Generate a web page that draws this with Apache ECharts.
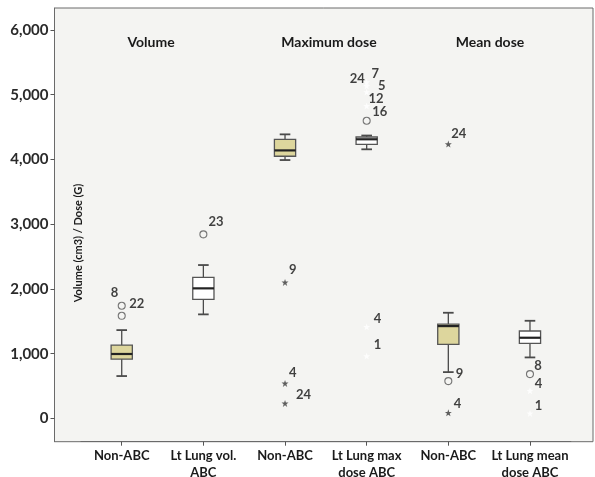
<!DOCTYPE html>
<html>
<head>
<meta charset="utf-8">
<script src="https://cdn.jsdelivr.net/npm/echarts@6/dist/echarts.min.js"></script>
<style>html,body{margin:0;padding:0;background:#fff;}#c{width:595px;height:477px;}</style>
</head>
<body>
<div id="c"></div>
<script>
// ---- data ----
const categories = ['Non-ABC', 'Lt Lung vol.\nABC', 'Non-ABC', 'Lt Lung max\ndose ABC', 'Non-ABC', 'Lt Lung mean\ndose ABC'];
const groupTitles = ['Volume', 'Maximum dose', 'Mean dose'];
const yTickValues = [0, 1000, 2000, 3000, 4000, 5000, 6000];
const boxMin    = [654, 1607, 3991, 4157, 715, 942];
const boxQ1     = [916, 1839, 4050, 4234, 1143, 1159];
const boxMedian = [995, 2009, 4140, 4312, 1426, 1246];
const boxQ3     = [1133, 2179, 4311, 4347, 1457, 1350];
const boxMax    = [1364, 2369, 4388, 4370, 1632, 1508];
// outliers: [category index, value, case label]
const mildOutliers = [[0, 1740, '22'], [0, 1585, '8'], [1, 2843, '23'], [3, 4598, '16'], [4, 576, '9'], [5, 684, '8']];
const extremeOutliers = [[2, 2101, '9'], [2, 541, '4'], [2, 232, '24'], [4, 4238, '24'], [4, 87, '4']];
const hiddenOutliers = [[3, 5135, '24'], [3, 5196, '7'], [3, 5042, '5'], [3, 4826, '12'], [3, 1415, '4'], [3, 963, '1'], [5, 427, '4'], [5, 77, '1']];

// ---- styles (kept apart from data) ----
const boxFills = ['#ddd69d', '#ffffff', '#ddd69d', '#ffffff', '#ddd69d', '#ffffff'];
const mildLabelOffsets = [[8, -1], [-10.5, -22.7], [5.7, -12], [6, -8], [8, -7], [4.8, -7.3]];
const extremeLabelOffsets = [[4, -12.3], [4, -10.6], [11, -8.3], [3, -10.7], [5.5, -8.7]];
const hiddenLabelOffsets = [[-17, -6.7], [4.8, -8.7], [11.3, -6.3], [1.8, -6.7], [7, -7.7], [7, -11], [4.8, -6.7], [4.8, -7.3]];
const groupTitleX = [151, 329, 490];
const FONT = 'Lato';
const SYM = 7;

const starPath = 'path://M0,-10 L2.35,-3.24 L9.51,-3.09 L3.8,1.24 L5.88,8.09 L0,4 L-5.88,8.09 L-3.8,1.24 L-9.51,-3.09 L-2.35,-3.24 Z';

const boxData = categories.map((c, i) => [i, boxMin[i], boxQ1[i], boxMedian[i], boxQ3[i], boxMax[i]]);

function outlierData(list, offsets) {
  return list.map((d, i) => ({
    value: [d[0], d[1]],
    label: {
      show: true,
      formatter: d[2],
      position: [offsets[i][0] + SYM / 2, offsets[i][1] + SYM / 2],
      align: 'left',
      verticalAlign: 'middle'
    }
  }));
}

const labelStyle = { fontFamily: FONT, fontWeight: 'bold', fontSize: 13, color: '#111' };

const chart = echarts.init(document.getElementById('c'), null, { renderer: 'canvas' });
chart.setOption({
  backgroundColor: '#ffffff',
  animation: false,
  grid: [
    { left: 54.5, right: 2, top: 8, bottom: 35.3, outerBoundsMode: 'none', containLabel: false, show: true, backgroundColor: '#f4f4f2', borderColor: '#6a6a6a', borderWidth: 1 },
    { left: 80.9, right: 24.2, top: 8, bottom: 35.3, outerBoundsMode: 'none', containLabel: false }
  ],
  xAxis: [
    { gridIndex: 0, type: 'value', show: false, min: 0, max: 1 },
    {
      gridIndex: 1, type: 'category', data: categories, boundaryGap: true, position: 'bottom',
      axisLine: { show: true, onZero: false, lineStyle: { color: '#6a6a6a' } },
      axisTick: { show: true, alignWithLabel: true, length: 4, lineStyle: { color: '#555' } },
      axisLabel: { interval: 0, margin: 6, lineHeight: 17, fontFamily: FONT, fontWeight: 'bold', fontSize: 13, color: '#1a1a1a' }
    }
  ],
  yAxis: [
    { gridIndex: 0, type: 'value', show: false, min: 0, max: 1 },
    {
      gridIndex: 1, type: 'value', min: -360, max: 6340, offset: 26.4,
      splitLine: { show: false },
      axisLine: { show: true, lineStyle: { color: '#6a6a6a' } },
      axisTick: { show: true, length: 4, customValues: yTickValues, lineStyle: { color: '#555' } },
      axisLabel: {
        customValues: yTickValues, margin: 6,
        formatter: v => v.toLocaleString('en-US'),
        fontFamily: FONT, fontWeight: 'bold', fontSize: 15, color: '#2a2a2a'
      }
    }
  ],
  graphic: [
    ...groupTitles.map((t, i) => ({
      type: 'text', x: groupTitleX[i], y: 42,
      style: { text: t, textAlign: 'center', textVerticalAlign: 'middle', font: 'bold 14px ' + FONT, fill: '#1a1a1a' }
    })),
    {
      type: 'text', x: 78, y: 243, rotation: Math.PI / 2,
      style: { text: 'Volume (cm3) / Dose (G)', textAlign: 'center', textVerticalAlign: 'middle', font: 'bold 11px ' + FONT, fill: '#1a1a1a' }
    }
  ],
  series: [
    {
      type: 'custom', xAxisIndex: 1, yAxisIndex: 1, data: boxData,
      renderItem: function (params, api) {
        const x = api.value(0);
        const bw = api.size([1, 0])[0];
        const boxW = bw * 0.26;
        const capW = boxW * 0.5;
        const pMin = api.coord([x, api.value(1)]);
        const pQ1 = api.coord([x, api.value(2)]);
        const pMed = api.coord([x, api.value(3)]);
        const pQ3 = api.coord([x, api.value(4)]);
        const pMax = api.coord([x, api.value(5)]);
        const cx = pMin[0];
        const stroke = { stroke: '#4a4a4a', lineWidth: 1.3 };
        return {
          type: 'group',
          children: [
            { type: 'line', shape: { x1: cx, y1: pMin[1], x2: cx, y2: pQ1[1] }, style: stroke },
            { type: 'line', shape: { x1: cx, y1: pQ3[1], x2: cx, y2: pMax[1] }, style: stroke },
            { type: 'line', shape: { x1: cx - capW / 2, y1: pMin[1], x2: cx + capW / 2, y2: pMin[1] }, style: { stroke: '#4a4a4a', lineWidth: 1.8 } },
            { type: 'line', shape: { x1: cx - capW / 2, y1: pMax[1], x2: cx + capW / 2, y2: pMax[1] }, style: { stroke: '#4a4a4a', lineWidth: 1.8 } },
            { type: 'rect', shape: { x: cx - boxW / 2, y: pQ3[1], width: boxW, height: pQ1[1] - pQ3[1] },
              style: { fill: boxFills[params.dataIndex], stroke: '#555', lineWidth: 1.3 } },
            { type: 'line', shape: { x1: cx - boxW / 2, y1: pMed[1], x2: cx + boxW / 2, y2: pMed[1] }, style: { stroke: '#222', lineWidth: 2.2 } }
          ]
        };
      }
    },
    {
      type: 'scatter', xAxisIndex: 1, yAxisIndex: 1, symbol: 'circle', symbolSize: SYM,
      itemStyle: { color: 'rgba(0,0,0,0)', borderColor: '#555', borderWidth: 1.1 },
      label: labelStyle,
      data: outlierData(mildOutliers, mildLabelOffsets)
    },
    {
      type: 'scatter', xAxisIndex: 1, yAxisIndex: 1, symbol: starPath, symbolSize: SYM,
      itemStyle: { color: '#3a3a3a' },
      label: labelStyle,
      data: outlierData(extremeOutliers, extremeLabelOffsets)
    },
    {
      type: 'scatter', xAxisIndex: 1, yAxisIndex: 1, symbol: starPath, symbolSize: SYM,
      itemStyle: { color: '#ffffff' },
      label: labelStyle,
      data: outlierData(hiddenOutliers, hiddenLabelOffsets)
    }
  ]
});
</script>
</body>
</html>
